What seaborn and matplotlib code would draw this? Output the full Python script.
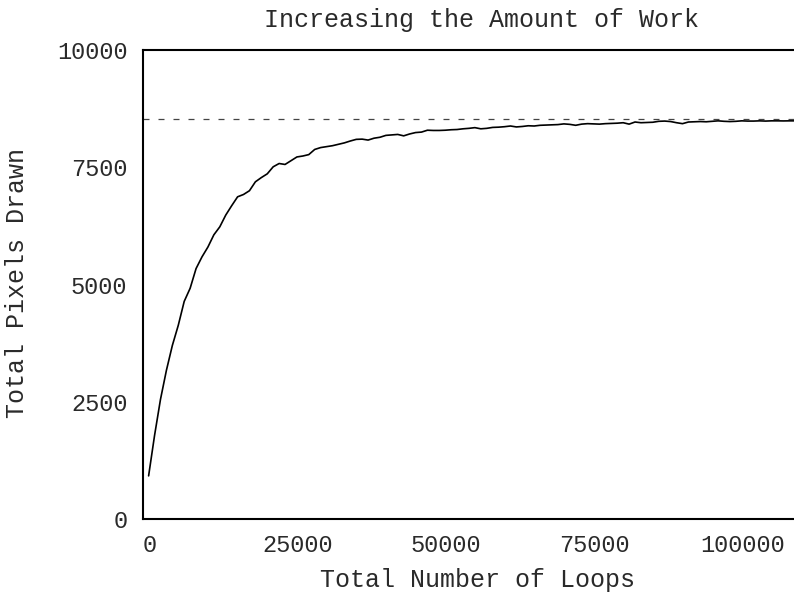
import matplotlib
matplotlib.use("Agg")
import matplotlib.pyplot as plt
import matplotlib.transforms as mtransforms
import numpy as np
import pandas as pd
import seaborn as sns

# Loop counts (one sample every 1000 loops)
loops = list(range(1000, 111000, 1000))

# Total pixels drawn at each loop count
pixels = [
    920, 1780, 2550, 3170, 3700, 4130, 4640, 4920, 5340, 5590,
    5800, 6060, 6230, 6480, 6680, 6870, 6920, 7000, 7190, 7280,
    7360, 7510, 7580, 7560, 7640, 7720, 7740, 7770, 7880, 7920,
    7940, 7960, 7990, 8020, 8060, 8095, 8100, 8080, 8120, 8140,
    8180, 8190, 8200, 8170, 8210, 8240, 8250, 8290, 8285, 8285,
    8290, 8300, 8305, 8320, 8330, 8345, 8320, 8330, 8350, 8355,
    8365, 8380, 8360, 8370, 8385, 8380, 8395, 8400, 8405, 8410,
    8425, 8415, 8395, 8420, 8430, 8425, 8420, 8430, 8435, 8440,
    8450, 8420, 8465, 8450, 8455, 8460, 8480, 8485, 8475, 8450,
    8430, 8465, 8470, 8475, 8470, 8480, 8490, 8480, 8475, 8480,
    8490, 8485, 8485, 8490, 8485, 8490, 8490, 8488, 8490, 8490,
]

# Screen capacity reference level
limit = 8520

x_ticks = [0, 25000, 50000, 75000, 100000]
y_ticks = [0, 2500, 5000, 7500, 10000]

title = "Increasing the Amount of Work"
x_label = "Total Number of Loops"
y_label = "Total Pixels Drawn"

sns.set_theme(style="white")
plt.rcParams["font.family"] = ["Liberation Mono", "DejaVu Sans Mono"]

text_color = "#2a2a2a"

df = pd.DataFrame({"loops": loops, "pixels": pixels})

fig = plt.figure(figsize=(7.94, 5.92), dpi=100)
ax = fig.add_axes([0.1797, 0.1233, 0.8218, 0.7922])

sns.lineplot(data=df, x="loops", y="pixels", ax=ax, color="black", linewidth=1.2)
ax.axhline(limit, color="#444444", linewidth=0.9,
           linestyle=(0, (4.8, 7.2)))

ax.set_xlim(0, 110000)
ax.set_ylim(0, 10000)
ax.set_xticks(x_ticks)
ax.set_yticks(y_ticks)
ax.set_xticklabels([str(v) for v in x_ticks])
ax.set_yticklabels([str(v) for v in y_ticks])
ax.set_xlabel("")
ax.set_ylabel("")

for side in ["left", "bottom", "top"]:
    ax.spines[side].set_visible(True)
    ax.spines[side].set_color("black")
    ax.spines[side].set_linewidth(1.5)
ax.spines["right"].set_visible(False)

ax.tick_params(axis="both", which="major", direction="in", length=7.2,
               width=1.2, color="black", labelsize=17, labelcolor=text_color)
ax.tick_params(axis="y", pad=11)
ax.tick_params(axis="x", pad=11, top=False)
ax.tick_params(axis="y", right=False)

# Shift x tick labels slightly right
offset = mtransforms.ScaledTranslation(7 / 100, 0, fig.dpi_scale_trans)
for lbl in ax.get_xticklabels():
    lbl.set_transform(lbl.get_transform() + offset)

fig.text(481 / 794, 1 - 20 / 592, title, ha="center", va="center",
         fontsize=18, color=text_color)
fig.text(477 / 794, 1 - 580 / 592, x_label, ha="center", va="center",
         fontsize=18, color=text_color)
fig.text(17 / 794, 1 - 283 / 592, y_label, ha="center", va="center",
         rotation=90, fontsize=18, color=text_color)

fig.savefig("out.png", dpi=100)
